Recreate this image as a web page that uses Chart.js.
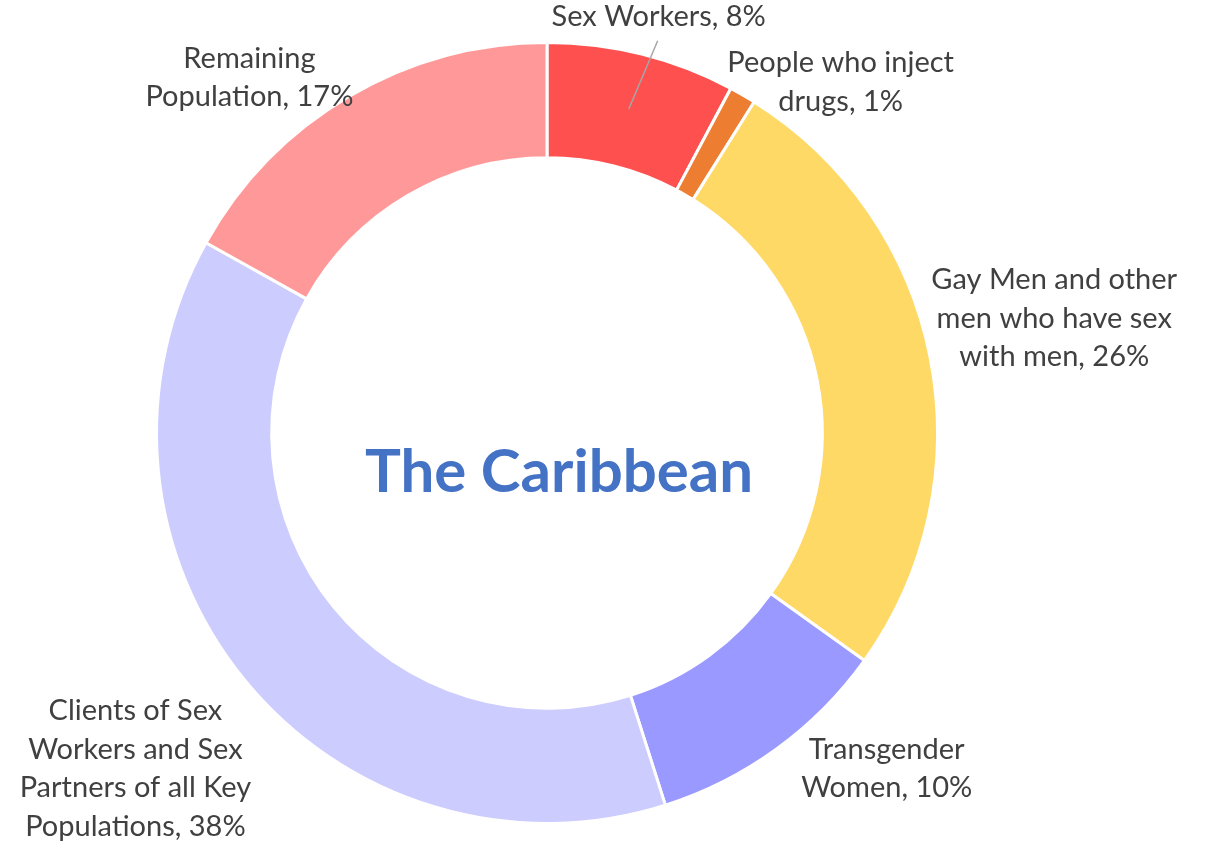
<!DOCTYPE html>
<html>
<head>
<meta charset="utf-8">
<script src="https://cdn.jsdelivr.net/npm/chart.js@4"></script>
<style>
  html, body { margin: 0; padding: 0; background: #ffffff; }
  #wrap { width: 1211px; height: 841px; position: relative; }
</style>
</head>
<body>
<div id="wrap"><canvas id="donut"></canvas></div>
<script>
const categories = [
  "Sex Workers",
  "People who inject drugs",
  "Gay Men and other men who have sex with men",
  "Transgender Women",
  "Clients of Sex Workers and Sex Partners of all Key Populations",
  "Remaining Population"
];
const shares = [7.8, 1.1, 26.0, 10.2, 38.0, 16.9];
const shareLabels = ["8%", "1%", "26%", "10%", "38%", "17%"];
// how each label is broken over lines in the picture
const labelLines = [
  ["Sex Workers, 8%"],
  ["People who inject", "drugs, 1%"],
  ["Gay Men and other", "men who have sex", "with men, 26%"],
  ["Transgender", "Women, 10%"],
  ["Clients of Sex", "Workers and Sex", "Partners of all Key", "Populations, 38%"],
  ["Remaining", "Population, 17%"]
];
const colors = ["#FF5050", "#ED7D31", "#FFD966", "#9999FF", "#CCCCFF", "#FF9999"];
const centerTitle = "The Caribbean";

// label block centres, in units of the outer radius from the ring centre
const labelOffsets = [
  [0.286, -1.066],
  [0.752, -0.898],
  [1.299, -0.294],
  [0.870, 0.859],
  [-1.054, 0.859],
  [-0.762, -0.910]
];

const labelPlugin = {
  id: "ringLabels",
  afterDraw(chart) {
    const ctx = chart.ctx;
    const arcs = chart.getDatasetMeta(0).data;
    if (!arcs.length) return;
    const cx = arcs[0].x, cy = arcs[0].y, r = arcs[0].outerRadius;
    const lh = 38.5;
    ctx.save();

    // leader line for the sex workers slice
    const tp = arcs[0].tooltipPosition();
    const sx = cx + labelOffsets[0][0] * r;
    const sy = cy + labelOffsets[0][1] * r;
    ctx.strokeStyle = "#A6A6A6";
    ctx.lineWidth = 1.5;
    ctx.beginPath();
    ctx.moveTo(tp.x + 1, tp.y - 1);
    ctx.lineTo(sx - 1, sy + 24);
    ctx.stroke();

    ctx.font = "29px Lato, 'Open Sans', sans-serif";
    ctx.fillStyle = "#404040";
    ctx.textAlign = "center";
    ctx.textBaseline = "middle";
    labelLines.forEach((lines, i) => {
      const x = cx + labelOffsets[i][0] * r;
      const y0 = cy + labelOffsets[i][1] * r - (lines.length - 1) * lh / 2;
      lines.forEach((t, j) => ctx.fillText(t, x, y0 + j * lh));
    });

    ctx.font = "bold 60px Lato, 'Open Sans', sans-serif";
    ctx.fillStyle = "#4472C4";
    ctx.fillText(centerTitle, cx + 12, cy + 40);
    ctx.restore();
  }
};

new Chart(document.getElementById("donut"), {
  type: "doughnut",
  data: {
    labels: categories,
    datasets: [{
      data: shares,
      backgroundColor: colors,
      borderColor: "#ffffff",
      borderWidth: 3,
      hoverOffset: 0
    }]
  },
  options: {
    responsive: true,
    maintainAspectRatio: false,
    animation: false,
    cutout: "70.5%",
    layout: { padding: { left: 155, right: 272, top: 41, bottom: 16 } },
    plugins: {
      legend: { display: false },
      tooltip: { enabled: false }
    }
  },
  plugins: [labelPlugin]
});
</script>
</body>
</html>
